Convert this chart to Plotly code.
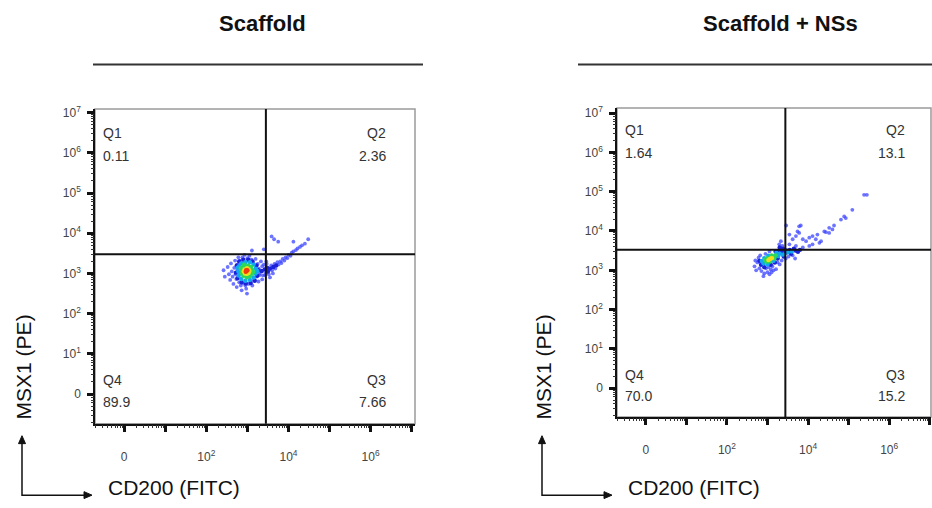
import math
import plotly.graph_objects as go

# ---------------------------------------------------------------
# Flow cytometry dot plots, CD200 (FITC) vs MSX1 (PE).
# Coordinates are in display decades of the biexponential scale
# (0 -> "0", 1 -> 10^1, 2 -> 10^2, ...).
# Density level per event: 0 sparse ... 5 densest.
# ---------------------------------------------------------------

panel_titles = ["Scaffold", "Scaffold + NSs"]
quadrant_names = ["Q1", "Q2", "Q3", "Q4"]
scaffold_pct = ["0.11", "2.36", "7.66", "89.9"]
scaffold_ns_pct = ["1.64", "13.1", "15.2", "70.0"]

# quadrant gates (display decades): [CD200, MSX1]
scaffold_gate = [3.45, 3.48]
scaffold_ns_gate = [3.44, 3.52]

# --- Scaffold events ---
scaffold_cd200 = [
    # level 5
    2.98, 2.96, 3.00, 2.97,
    # level 4
    2.93, 3.03, 2.94, 3.03, 2.99, 2.99, 2.91, 3.05,
    # level 3
    2.86, 2.88, 2.94, 3.02, 3.09, 3.12, 3.11, 3.06, 2.98, 2.90, 2.86, 2.84, 3.14, 2.92,
    # level 2
    2.78, 2.80, 2.85, 2.95, 3.06, 3.15, 3.20, 3.20, 3.15, 3.06, 2.95, 2.85, 2.79, 2.76, 3.24,
    # level 1
    2.72, 2.74, 2.80, 2.90, 3.02, 3.12, 3.22, 3.26, 3.24, 3.18, 3.08, 2.96, 2.86, 2.76,
    3.35, 3.42, 3.48, 3.55, 3.63, 3.70, 3.50,
    # level 0
    2.42, 2.45, 2.52, 2.55, 2.58, 2.60, 2.62, 2.64, 2.66, 2.68, 2.70, 2.71, 2.73, 2.74,
    2.76, 2.78, 2.80, 2.82, 2.84, 2.86, 2.88, 2.90, 2.93, 2.95, 2.97, 2.99, 3.00, 3.03,
    3.05, 3.08, 3.10, 3.12, 3.14, 3.16, 3.20, 3.22, 3.25, 3.27, 3.28, 3.30, 3.33, 3.36,
    3.11, 2.80, 2.76,
    3.30, 3.38, 3.45, 3.52, 3.58, 3.60, 3.66, 3.68, 3.73, 3.76, 3.80, 3.83, 3.86, 3.90,
    3.93, 3.97, 4.00, 4.05, 4.08, 4.12, 4.18, 4.22, 4.28, 4.33, 4.40, 4.48, 3.40, 3.46,
    3.55, 3.62, 3.36, 3.43, 3.47, 3.59, 3.75, 4.12, 3.65, 3.40,
]
scaffold_msx1 = [
    3.06, 3.04, 3.08, 3.08,
    3.10, 3.10, 3.00, 3.01, 3.13, 2.99, 3.05, 3.06,
    3.08, 3.16, 3.19, 3.20, 3.16, 3.08, 2.99, 2.93, 2.90, 2.94, 3.00, 3.13, 3.03, 3.22,
    3.05, 3.18, 3.25, 3.28, 3.28, 3.22, 3.12, 3.00, 2.90, 2.84, 2.82, 2.86, 2.95, 3.14, 3.06,
    3.02, 3.20, 3.30, 3.34, 3.34, 3.30, 3.20, 3.08, 2.94, 2.82, 2.76, 2.75, 2.78, 2.88,
    3.06, 3.10, 3.14, 3.12, 3.16, 3.20, 3.05,
    3.08, 2.92, 3.16, 2.98, 2.84, 3.25, 3.05, 2.92, 2.74, 3.14, 3.32, 2.98, 2.86, 2.66,
    3.22, 3.40, 2.78, 3.32, 2.70, 2.58, 3.40, 2.76, 3.46, 2.70, 2.62, 2.50, 3.38, 2.74,
    3.44, 2.80, 3.34, 2.70, 3.28, 2.84, 3.36, 2.92, 3.24, 2.80, 3.12, 2.96, 3.30, 3.18,
    3.57, 3.00, 3.10,
    3.00, 2.95, 3.02, 2.98, 3.20, 3.08, 3.24, 3.12, 3.28, 3.22, 3.30, 3.26, 3.36, 3.32,
    3.40, 3.38, 3.46, 3.44, 3.52, 3.55, 3.58, 3.62, 3.66, 3.70, 3.74, 3.85, 3.22, 3.30,
    2.90, 3.00, 2.85, 2.96, 3.24, 3.92, 3.79, 3.79, 3.85, 3.60,
]
scaffold_level = [5] * 4 + [4] * 8 + [3] * 14 + [2] * 15 + [1] * 21 + [0] * 83

# --- Scaffold + NSs events ---
scaffold_ns_cd200 = [
    # level 4
    3.05, 3.08, 3.02, 3.11,
    # level 3
    2.97, 3.00, 3.14, 3.17, 3.06, 2.94, 3.20, 3.10,
    # level 2
    2.90, 2.92, 3.02, 3.22, 3.26, 3.15, 3.00, 2.86, 3.30, 3.50, 3.60, 3.38,
    # level 1
    3.20, 3.28, 3.35, 3.42, 3.45, 3.38, 3.30, 3.48, 3.55, 3.65, 3.70, 3.75, 3.80, 3.58,
    3.40, 3.25, 2.84, 2.80, 2.92, 3.08, 3.18,
    # level 0
    2.68, 2.75, 2.80, 2.85, 2.92, 3.00, 3.08, 3.12, 3.25, 2.78, 2.70, 2.82, 2.95, 3.05,
    2.96, 3.02, 3.15, 3.30, 3.35, 3.45, 3.52, 3.62, 3.68, 2.72, 2.90, 3.05, 3.21, 3.10,
    3.54, 3.62, 3.70, 3.78, 3.82, 3.74, 3.87, 3.95, 4.03, 4.11, 4.19, 4.23, 4.28, 4.32,
    4.40, 4.44, 4.52, 4.52, 4.60, 4.64, 4.81, 4.89, 4.93, 5.09, 5.38, 5.45, 4.03, 4.11,
    3.87, 3.70, 3.46, 3.33, 3.29, 3.37, 3.78, 3.54,
]
scaffold_ns_msx1 = [
    3.28, 3.30, 3.26, 3.31,
    3.22, 3.31, 3.35, 3.30, 3.22, 3.27, 3.38, 3.38,
    3.18, 3.31, 3.37, 3.44, 3.36, 3.24, 3.15, 3.24, 3.42, 3.45, 3.48, 3.40,
    3.48, 3.50, 3.47, 3.52, 3.45, 3.55, 3.58, 3.50, 3.52, 3.55, 3.50, 3.47, 3.52, 3.42,
    3.35, 3.30, 3.14, 3.24, 3.08, 3.14, 3.20,
    3.10, 3.20, 3.05, 2.98, 2.92, 2.95, 3.02, 3.10, 3.20, 3.32, 3.25, 3.38, 3.42, 3.48,
    3.05, 3.08, 3.00, 3.15, 3.25, 3.30, 3.35, 3.38, 3.30, 3.00, 2.85, 2.90, 3.03, 2.95,
    3.66, 3.79, 3.87, 3.95, 4.14, 3.99, 3.79, 3.74, 3.83, 3.87, 3.79, 3.91, 3.70, 3.74,
    3.99, 3.97, 4.08, 3.95, 4.04, 4.14, 4.29, 4.37, 4.33, 4.54, 4.92, 4.92, 3.62, 3.66,
    3.58, 3.62, 4.14, 3.74, 3.66, 3.62, 4.12, 3.91,
]
scaffold_ns_level = [4] * 4 + [3] * 8 + [2] * 12 + [1] * 21 + [0] * 64

# tick positions and labels
y_tickvals = [0, 1, 2, 3, 4, 5, 6, 7]
y_ticktext = ["0", "10<sup>1</sup>", "10<sup>2</sup>", "10<sup>3</sup>",
              "10<sup>4</sup>", "10<sup>5</sup>", "10<sup>6</sup>", "10<sup>7</sup>"]
x_tickvals = [0, 2, 4, 6]
x_ticktext = ["0", "10<sup>2</sup>", "10<sup>4</sup>", "10<sup>6</sup>"]
major_vals = [0, 1, 2, 3, 4, 5, 6, 7]
minor_vals = [round(n + math.log10(k), 4) for n in range(-1, 7) for k in range(2, 10)]

# density palette (jet-like)
palette = {
    0: "rgba(60,70,255,0.75)",
    1: "#1c22d8",
    2: "#12a8f0",
    3: "#2cd85a",
    4: "#f2dc1c",
    5: "#f03a10",
}

W, H = 932, 508


def px_x(p):
    return p / W


def px_y(p):
    return 1 - p / H


def axis_key(letter, n):
    return letter + "axis" + ("" if n == 1 else str(n))


def axis_ref(letter, n):
    return letter if n == 1 else "%s%d" % (letter, n)


fig = go.Figure()

panels = [
    dict(cd=scaffold_cd200, ms=scaffold_msx1, lv=scaffold_level,
         gate=scaffold_gate, pct=scaffold_pct,
         xdom=[95, 415], ydom=[423, 105], xr=[-0.71, 7.08], yr=[-0.74, 7.09],
         title_x=262, line=[93, 423],
         q_left=101, q_right=388, q_top=[129, 152], q_bot=[379, 401],
         arrow_x=22, xlab_x=106),
    dict(cd=scaffold_ns_cd200, ms=scaffold_ns_msx1, lv=scaffold_ns_level,
         gate=scaffold_ns_gate, pct=scaffold_ns_pct,
         xdom=[617, 931], ydom=[416, 104], xr=[-0.71, 7.03], yr=[-0.73, 7.13],
         title_x=780, line=[578, 932],
         q_left=623, q_right=907, q_top=[126, 149], q_bot=[374, 395],
         arrow_x=542, xlab_x=626),
]

FONT = "Liberation Sans, Arial, sans-serif"
tick_font = dict(family=FONT, size=12, color="#444")
label_font = dict(family=FONT, size=14, color="#333")
title_font = dict(family=FONT, size=22, color="#111")
axis_font = dict(family=FONT, size=21, color="#111")

shapes = []
annotations = []
layout_axes = {}

for i, p in enumerate(panels):
    xa, ya = axis_ref("x", 1 + i), axis_ref("y", 1 + i)

    # events, drawn from sparse to dense
    for lev in sorted(set(p["lv"])):
        xs = [x for x, l in zip(p["cd"], p["lv"]) if l == lev]
        ys = [y for y, l in zip(p["ms"], p["lv"]) if l == lev]
        fig.add_trace(go.Scatter(
            x=xs, y=ys, mode="markers", xaxis=xa, yaxis=ya,
            marker=dict(size=3.8 if lev == 0 else 4.4, color=palette[lev], line=dict(width=0)),
            showlegend=False, hoverinfo="skip",
        ))

    xdom = [px_x(p["xdom"][0]), px_x(p["xdom"][1])]
    ydom = [px_y(p["ydom"][0]), px_y(p["ydom"][1])]
    base = dict(showgrid=False, zeroline=False, ticks="outside", tickcolor="#111",
                tickfont=tick_font)

    # main axes: tick labels
    layout_axes[axis_key("x", 1 + i)] = dict(base, domain=xdom, range=p["xr"], anchor=ya,
                                             showline=True, linecolor="#111", linewidth=1.5,
                                             ticklen=6, tickwidth=2.5, tickmode="array",
                                             tickvals=x_tickvals, ticktext=x_ticktext,
                                             ticklabelstandoff=15)
    layout_axes[axis_key("y", 1 + i)] = dict(base, domain=ydom, range=p["yr"], anchor=xa,
                                             showline=True, linecolor="#111", linewidth=1.5,
                                             ticklen=6, tickwidth=2.5, tickmode="array",
                                             tickvals=y_tickvals, ticktext=y_ticktext,
                                             ticklabelstandoff=4)

    # overlaying axes carry the decade ticks, the minor ticks and the black axis lines
    xo_major, xo_minor = 3 + i, 5 + i
    yo_minor, yo_major = 3 + i, 5 + i
    major_style = dict(base, showline=True, linecolor="#111", linewidth=1.5, ticklen=6,
                       tickwidth=2.5, tickmode="array", tickvals=major_vals,
                       showticklabels=False)
    minor_style = dict(base, showline=False, ticklen=3, tickwidth=1, tickcolor="#333",
                       tickmode="array", tickvals=minor_vals, showticklabels=False)
    layout_axes[axis_key("x", xo_major)] = dict(major_style, overlaying=xa, range=p["xr"],
                                                anchor=ya, side="bottom")
    layout_axes[axis_key("x", xo_minor)] = dict(minor_style, overlaying=xa, range=p["xr"],
                                                anchor=ya, side="bottom")
    layout_axes[axis_key("y", yo_minor)] = dict(minor_style, overlaying=ya, range=p["yr"],
                                                anchor=xa, side="left")
    layout_axes[axis_key("y", yo_major)] = dict(major_style, overlaying=ya, range=p["yr"],
                                                anchor=xa, side="left")
    # empty traces so the overlaying subplots get drawn
    for ox, oy in [(axis_ref("x", xo_major), ya), (axis_ref("x", xo_minor), ya),
                   (xa, axis_ref("y", yo_minor)), (xa, axis_ref("y", yo_major))]:
        fig.add_trace(go.Scatter(x=[None], y=[None], xaxis=ox, yaxis=oy, mode="markers",
                                 showlegend=False, hoverinfo="skip"))

    xd = xa + " domain"
    yd = ya + " domain"
    # plot frame
    shapes.append(dict(type="rect", xref=xd, yref=yd, x0=0, x1=1, y0=0, y1=1,
                       line=dict(color="#9a9a9a", width=1.5), layer="below"))
    # quadrant gates
    shapes.append(dict(type="line", xref=xa, yref=yd, x0=p["gate"][0], x1=p["gate"][0],
                       y0=0, y1=1, line=dict(color="#111", width=2)))
    shapes.append(dict(type="line", xref=xd, yref=ya, x0=0, x1=1,
                       y0=p["gate"][1], y1=p["gate"][1], line=dict(color="#111", width=2)))
    # title and rule underneath
    annotations.append(dict(text="<b>%s</b>" % panel_titles[i], xref="paper", yref="paper",
                            x=px_x(p["title_x"]), y=px_y(19), showarrow=False,
                            xanchor="center", yanchor="middle", font=title_font))
    shapes.append(dict(type="line", xref="paper", yref="paper",
                       x0=px_x(p["line"][0]), x1=px_x(p["line"][1]),
                       y0=px_y(60), y1=px_y(60), line=dict(color="#333", width=2)))
    # quadrant labels: Q1 top-left, Q2 top-right, Q3 bottom-right, Q4 bottom-left
    spots = [(p["q_left"], p["q_top"], "left"), (p["q_right"], p["q_top"], "right"),
             (p["q_right"], p["q_bot"], "right"), (p["q_left"], p["q_bot"], "left")]
    for (qx, qy, anc), name, val in zip(spots, quadrant_names, p["pct"]):
        annotations.append(dict(text=name, xref="paper", yref="paper", x=px_x(qx),
                                y=px_y(qy[0]), showarrow=False, xanchor=anc,
                                yanchor="middle", font=label_font))
        annotations.append(dict(text=val, xref="paper", yref="paper", x=px_x(qx),
                                y=px_y(qy[1]), showarrow=False, xanchor=anc,
                                yanchor="middle", font=label_font))
    # axis titles with corner arrows
    ax = p["arrow_x"]
    annotations.append(dict(text="MSX1 (PE)", xref="paper", yref="paper", x=px_x(ax + 1),
                            y=px_y(366), textangle=-90, showarrow=False,
                            xanchor="center", yanchor="middle", font=axis_font))
    annotations.append(dict(text="CD200 (FITC)", xref="paper", yref="paper",
                            x=px_x(p["xlab_x"]), y=px_y(487), showarrow=False,
                            xanchor="left", yanchor="middle", font=axis_font))
    shapes.append(dict(type="path", xref="paper", yref="paper",
                       path="M %f,%f L %f,%f L %f,%f" % (
                           px_x(ax), px_y(441), px_x(ax), px_y(495), px_x(ax + 63), px_y(495)),
                       line=dict(color="#111", width=1.5)))
    shapes.append(dict(type="path", xref="paper", yref="paper",
                       path="M %f,%f L %f,%f L %f,%f Z" % (
                           px_x(ax), px_y(435), px_x(ax - 3.5), px_y(443),
                           px_x(ax + 3.5), px_y(443)),
                       fillcolor="#111", line=dict(color="#111", width=1)))
    shapes.append(dict(type="path", xref="paper", yref="paper",
                       path="M %f,%f L %f,%f L %f,%f Z" % (
                           px_x(ax + 70), px_y(495), px_x(ax + 62), px_y(491.5),
                           px_x(ax + 62), px_y(498.5)),
                       fillcolor="#111", line=dict(color="#111", width=1)))

fig.update_layout(**layout_axes)
fig.update_layout(width=W, height=H, margin=dict(l=0, r=0, t=0, b=0),
                  paper_bgcolor="white", plot_bgcolor="white",
                  shapes=shapes, annotations=annotations, showlegend=False)

fig.write_html("out.html")
